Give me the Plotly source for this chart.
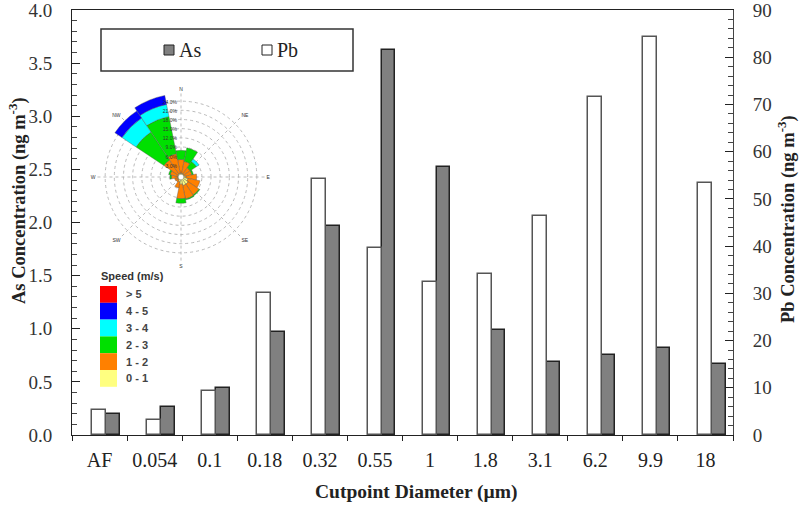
import plotly.graph_objects as go

# ---------------- data ----------------
categories = ["AF", "0.054", "0.1", "0.18", "0.32", "0.55", "1", "1.8", "3.1", "6.2", "9.9", "18"]
as_values = [0.20, 0.26, 0.445, 0.97, 1.97, 3.62, 2.525, 0.985, 0.687, 0.75, 0.816, 0.668]
pb_values = [5.3, 3.2, 9.3, 30.0, 54.2, 39.5, 32.3, 34.0, 46.3, 71.6, 84.3, 53.4]

# wind rose (16 directions, % frequency per speed class)
directions = [0, 22.5, 45, 67.5, 90, 112.5, 135, 157.5, 180, 202.5, 225, 247.5, 270, 292.5, 315, 337.5]
speed_bins = ["0 - 1", "1 - 2", "2 - 3", "3 - 4", "4 - 5", "> 5"]
speed_colors = ["#FFFF80", "#FF8000", "#00E000", "#00FFFF", "#0000FF", "#FF0000"]
freq_0_1 = [0.4, 0.4, 0.3, 0.3, 0.8, 1.5, 2.0, 2.0, 1.5, 0.8, 0.3, 0.3, 0.3, 0.3, 0.4, 0.4]
freq_1_2 = [4.5, 4.0, 2.5, 2.5, 3.5, 4.0, 4.3, 4.5, 4.8, 2.0, 0.8, 1.0, 2.0, 2.5, 5.5, 6.5]
freq_2_3 = [3.0, 4.5, 2.5, 0.5, 0.0, 0.0, 0.3, 0.3, 1.5, 0.0, 0.0, 0.0, 0.5, 0.5, 11.0, 12.5]
freq_3_4 = [0.0, 0.0, 1.0, 0.0, 0.0, 0.0, 0.0, 0.0, 0.0, 0.0, 0.0, 0.0, 0.0, 0.0, 5.5, 4.0]
freq_4_5 = [0.0, 0.0, 0.0, 0.0, 0.0, 0.0, 0.0, 0.0, 0.0, 0.0, 0.0, 0.0, 0.0, 0.0, 2.8, 3.0]
freq_gt5 = [0.0] * 16
rose_ticks = [3, 6, 9, 12, 15, 18, 21, 24, 27]
rose_ticklabels = ["3.0%", "6.0%", "9.0%", "12.0%", "15.0%", "18.0%", "21.0%", "24.0%", " "]
compass_vals = [0, 45, 90, 135, 180, 225, 270, 315]
compass_labels = ["N", "NE", "E", "SE", "S", "SW", "W", "NW"]

x_title = "<b>Cutpoint Diameter (µm)</b>"
y_title = "<b>As Concentration (ng m<sup>-3</sup>)</b>"
y2_title = "<b>Pb Concentration (ng m<sup>-3</sup>)</b>"

# ---------------- layout helpers ----------------
W, H = 800, 508
PL, PR, PT, PB = 72, 733, 10, 435          # plot area in pixels
PW, PH = PR - PL, PB - PT
L, T, R, B = PL, PT, W - PR, H - PB


def px(x):
    return (x - PL) / PW


def py(y):
    return (PB - y) / PH


SERIF = "Liberation Serif, Times New Roman, serif"
SANS = "Arial, Liberation Sans, sans-serif"

fig = go.Figure()

fig.add_trace(go.Bar(
    x=categories, y=pb_values, name="Pb", yaxis="y2",
    offset=-0.135, width=0.255,
    marker=dict(color="white", line=dict(color="#555555", width=1.5)),
    showlegend=False,
))
fig.add_trace(go.Bar(
    x=categories, y=as_values, name="As", yaxis="y",
    offset=0.12, width=0.245,
    marker=dict(color="#808080", line=dict(color="#222222", width=1.5)),
    showlegend=False,
))

rose_series = [freq_0_1, freq_1_2, freq_2_3, freq_3_4, freq_4_5, freq_gt5]
for name, col, vals in zip(speed_bins, speed_colors, rose_series):
    fig.add_trace(go.Barpolar(
        r=vals, theta=directions, name=name, width=22.5,
        marker=dict(color=col, line=dict(color="#555555", width=0.4)),
        showlegend=False, subplot="polar",
    ))

shapes = []
annotations = []

# axis titles
annotations.append(dict(xref="paper", yref="paper", x=px(416), y=py(492), text=x_title,
                        showarrow=False, xanchor="center", yanchor="middle",
                        font=dict(family=SERIF, size=19.5, color="#222222")))
annotations.append(dict(xref="paper", yref="paper", x=px(17), y=py(201), text=y_title,
                        showarrow=False, xanchor="center", yanchor="middle", textangle=-90,
                        font=dict(family=SERIF, size=18.5, color="#222222")))
annotations.append(dict(xref="paper", yref="paper", x=px(786), y=py(219), text=y2_title,
                        showarrow=False, xanchor="center", yanchor="middle", textangle=-90,
                        font=dict(family=SERIF, size=18.5, color="#222222")))

# legend box (As / Pb)
shapes.append(dict(type="rect", xref="paper", yref="paper",
                   x0=px(101), x1=px(353), y0=py(71), y1=py(29),
                   line=dict(color="#333333", width=1.5), fillcolor="white", layer="above"))
shapes.append(dict(type="rect", xref="paper", yref="paper",
                   x0=px(164), x1=px(174), y0=py(55), y1=py(45),
                   line=dict(color="#222222", width=1), fillcolor="#808080", layer="above"))
shapes.append(dict(type="rect", xref="paper", yref="paper",
                   x0=px(262), x1=px(272), y0=py(55), y1=py(45),
                   line=dict(color="#222222", width=1), fillcolor="white", layer="above"))
annotations.append(dict(xref="paper", yref="paper", x=px(177), y=py(50), text="As",
                        showarrow=False, xanchor="left", yanchor="middle",
                        font=dict(family=SERIF, size=20, color="#222222")))
annotations.append(dict(xref="paper", yref="paper", x=px(275), y=py(50), text="Pb",
                        showarrow=False, xanchor="left", yanchor="middle",
                        font=dict(family=SERIF, size=20, color="#222222")))

# speed legend
annotations.append(dict(xref="paper", yref="paper", x=px(99), y=py(276), text="<b>Speed (m/s)</b>",
                        showarrow=False, xanchor="left", yanchor="middle",
                        font=dict(family=SANS, size=11, color="#333333")))
legend_order = list(range(len(speed_bins)))[::-1]
for i, k in enumerate(legend_order):
    y0 = 286 + i * 16.8
    shapes.append(dict(type="rect", xref="paper", yref="paper",
                       x0=px(100), x1=px(117), y0=py(y0 + 16.8), y1=py(y0),
                       line=dict(width=0), fillcolor=speed_colors[k], layer="above"))
    annotations.append(dict(xref="paper", yref="paper", x=px(124), y=py(y0 + 8.4),
                            text="<b>" + speed_bins[k] + "</b>",
                            showarrow=False, xanchor="left", yanchor="middle",
                            font=dict(family=SANS, size=11, color="#444444")))

fig.update_layout(
    width=W, height=H,
    margin=dict(l=L, r=R, t=T, b=B, autoexpand=False),
    paper_bgcolor="white", plot_bgcolor="white",
    barmode="overlay",
    bargap=0,
    shapes=shapes, annotations=annotations,
    xaxis=dict(
        type="category", categoryorder="array", categoryarray=categories,
        automargin=False,
        showline=True, linecolor="#222222", linewidth=1, mirror=True,
        ticks="outside", tickson="boundaries", ticklen=5, tickcolor="#222222",
        ticklabelstandoff=7,
        showgrid=False, zeroline=False,
        tickfont=dict(family=SERIF, size=20, color="#222222"),
    ),
    yaxis=dict(
        range=[0, 4], dtick=0.5, tickformat=".1f", automargin=False,
        ticklabeloverflow="allow", ticklabelstandoff=15,
        showline=True, linecolor="#222222", linewidth=1,
        ticks="inside", ticklen=8, tickcolor="#222222",
        minor=dict(dtick=0.1, ticks="inside", ticklen=5, tickcolor="#444444"),
        showgrid=False, zeroline=False,
        tickfont=dict(family=SERIF, size=19, color="#333333"),
    ),
    yaxis2=dict(
        range=[0, 90], dtick=10, overlaying="y", side="right", automargin=False,
        ticklabeloverflow="allow", ticklabelstandoff=15,
        showline=True, linecolor="#444444", linewidth=1,
        ticks="inside", ticklen=8, tickcolor="#222222",
        minor=dict(dtick=2, ticks="inside", ticklen=5, tickcolor="#444444"),
        showgrid=False, zeroline=False,
        tickfont=dict(family=SERIF, size=19, color="#333333"),
    ),
    polar=dict(
        domain=dict(x=[px(181 - 85), px(181 + 85)], y=[py(177 + 85), py(177 - 85)]),
        bgcolor="rgba(0,0,0,0)",
        hole=0.03,
        barmode="stack",
        radialaxis=dict(
            range=[0, 27], tickmode="array", tickvals=rose_ticks, ticktext=rose_ticklabels,
            showline=False, ticks="", angle=90, side="counterclockwise",
            gridcolor="#BBBBBB", griddash="dot", gridwidth=1,
            tickfont=dict(family=SANS, size=5, color="#333333"),
        ),
        angularaxis=dict(
            rotation=90, direction="clockwise",
            tickmode="array", tickvals=compass_vals, ticktext=compass_labels,
            showline=False, ticks="",
            gridcolor="#BBBBBB", griddash="dot", gridwidth=1,
            tickfont=dict(family=SANS, size=5, color="#333333"),
        ),
    ),
)

# remove the browser's default 8px page margin so the figure sits at the window's corner
fig.write_html("out.html", config={"displayModeBar": False},
               post_script="document.body.style.margin='0';")
